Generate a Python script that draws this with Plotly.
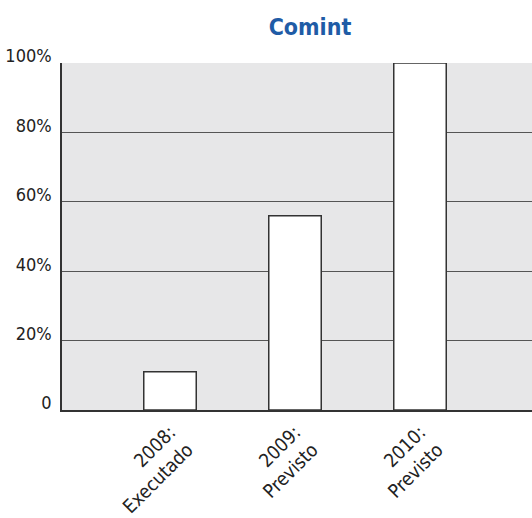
import plotly.graph_objects as go

categories = ["2008:<br>Executado", "2009:<br>Previsto", "2010:<br>Previsto"]
values = [11, 56, 100]
y_ticks = [0, 20, 40, 60, 80, 100]
y_tick_labels = ["0", "20%", "40%", "60%", "80%", "100%"]

FONT = "DejaVu Sans Condensed, Roboto, Liberation Sans, sans-serif"

fig = go.Figure()
fig.add_trace(go.Bar(
    x=list(range(len(categories))),
    y=values,
    width=0.42,
    marker=dict(color="white", line=dict(color="#333333", width=1.5)),
    hoverinfo="skip",
))

fig.update_layout(
    width=532, height=518,
    margin=dict(l=62, r=0, t=63, b=108, autoexpand=False),
    paper_bgcolor="white",
    plot_bgcolor="#e7e7e8",
    showlegend=False,
    title=dict(text="<b>Comint</b>", x=310 / 532, xanchor="center", y=1 - 27 / 518, yanchor="middle",
               font=dict(family=FONT, size=23, color="#1f5ca6")),
    font=dict(family=FONT, size=18, color="#222222"),
)
fig.update_xaxes(
    range=[-0.864, 2.896], automargin=False,
    tickmode="array", tickvals=list(range(len(categories))), ticktext=categories,
    tickangle=-45, showgrid=False, zeroline=False,
    showline=True, linecolor="#333333", linewidth=1.5,
    ticks="", ticklabelstandoff=2,
    tickfont=dict(family=FONT, size=19, color="#222222"),
)
fig.update_yaxes(
    range=[0, 100], automargin=False,
    tickmode="array", tickvals=y_ticks, ticktext=y_tick_labels,
    showgrid=True, gridcolor="#555555", gridwidth=1,
    zeroline=False, showline=True, linecolor="#333333", linewidth=1.5,
    ticks="", ticklabelstandoff=5, ticklabelshift=-7,
    tickfont=dict(family=FONT, size=18, color="#222222"),
)

fig.write_html("out.html")
